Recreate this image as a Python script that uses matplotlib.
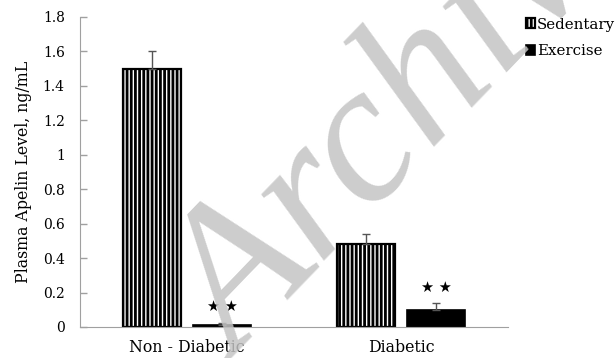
import matplotlib
matplotlib.use("Agg")
import matplotlib.pyplot as plt
import numpy as np

categories = ["Non - Diabetic", "Diabetic"]
series_names = ["Sedentary", "Exercise"]
sedentary = [1.50, 0.48]
sedentary_err = [0.105, 0.06]
exercise = [0.01, 0.10]
exercise_err = [0.015, 0.04]
star_y = [0.075, 0.185]
yticks = [0, 0.2, 0.4, 0.6, 0.8, 1, 1.2, 1.4, 1.6, 1.8]
ytick_labels = ["0", "0.2", "0.4", "0.6", "0.8", "1", "1.2", "1.4", "1.6", "1.8"]

plt.rcParams['font.family'] = ['DejaVu Serif']
plt.rcParams['hatch.linewidth'] = 2.0

fig = plt.figure(figsize=(6.16, 3.58), dpi=100)
ax = fig.add_axes([80/616, 1-327/358, 428/616, 310/358])

x = np.arange(len(categories))
w = 0.27
off = 0.165
b1 = ax.bar(x - off, sedentary, w, facecolor='white', edgecolor='black',
            hatch='||||', linewidth=1.6, label=series_names[0], zorder=2)
b2 = ax.bar(x + off, exercise, w, facecolor='black', edgecolor='black',
            linewidth=1.2, label=series_names[1], zorder=2)
ax.errorbar(x - off, sedentary, yerr=[np.zeros(2), sedentary_err], fmt='none',
            ecolor='#555555', elinewidth=1, capsize=3, capthick=1, zorder=3)
ax.errorbar(x + off, exercise, yerr=[np.zeros(2), exercise_err], fmt='none',
            ecolor='#555555', elinewidth=1, capsize=3, capthick=1, zorder=3)
for xi, sy in zip(x + off, star_y):
    ax.text(xi, sy, "★ ★", ha='center', va='bottom', fontsize=10.5,
            family=['DejaVu Sans'], color='black', zorder=4)

ax.set_xlim(-0.5, 1.5)
ax.set_ylim(0, 1.8)
ax.set_yticks(yticks)
ax.set_yticklabels(ytick_labels, fontsize=10)
ax.set_xticks(x)
ax.set_xticklabels(categories, fontsize=11.3)
ax.tick_params(axis='x', length=0, pad=9)
ax.tick_params(axis='y', direction='in', length=5, color='#a0a0a0', width=1, pad=11)
for s in ['top', 'right']:
    ax.spines[s].set_visible(False)
ax.spines['left'].set_color('#a0a0a0')
ax.spines['bottom'].set_color('#a0a0a0')
ax.set_ylabel("Plasma Apelin Level, ng/mL", fontsize=11.3, labelpad=8)

leg = fig.legend(handles=[b1, b2], labels=series_names, loc='upper left',
                 bbox_to_anchor=(518/616, 1-10/358), frameon=False, fontsize=10.8,
                 handlelength=0.6, handleheight=0.6, handletextpad=0.15,
                 labelspacing=0.85, borderpad=0)

fig.text(238/616, 1-362/358, "Archive", rotation=46, fontsize=144,
         family=['Liberation Serif'],
         style='italic', color='#c4c4c4', alpha=0.85,
         ha='left', va='baseline', zorder=10, rotation_mode='anchor')

fig.savefig("out.png", dpi=100)
